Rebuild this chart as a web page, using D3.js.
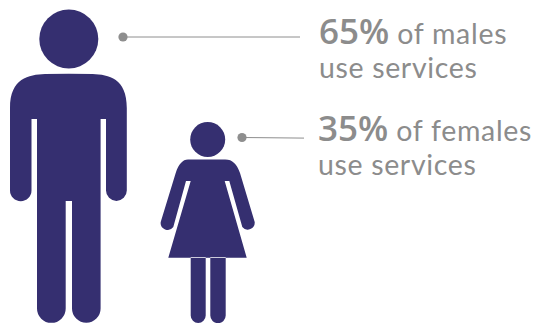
<!DOCTYPE html>
<html>
<head>
<meta charset="utf-8">
<script src="https://cdn.jsdelivr.net/npm/d3@7"></script>
<style>
html,body{margin:0;padding:0;background:#fff}
svg{display:block}
text{font-family:Lato,"Open Sans",sans-serif;fill:#8c8c8c}
</style>
</head>
<body>
<svg id="chart" width="534" height="323"></svg>
<script>
const groups = ["males", "females"];
const shares = [65, 35];
const secondLine = ["use services", "use services"];

const ink = "#352f70", grey = "#8e8e8e";
const svg = d3.select("#chart");

// Each figure's height grows with its share; both stand on the bottom edge.
const height = d3.scaleLinear().domain([35, 65]).range([201, 313]);
const figureX = d3.scaleOrdinal().domain(groups).range([68.8, 207.7]);
const labelX = d3.scaleOrdinal().domain(groups).range([319, 318]);
const labelY = d3.scaleOrdinal().domain(groups).range([44, 141]);
const leaderY = d3.scaleOrdinal().domain(groups).range([37, 137.5]);
const leaderX = d3.scaleOrdinal().domain(groups).range([123, 242]);
const leaderEnd = d3.scaleOrdinal().domain(groups).range([300, 304]);

// Pictogram outlines, x measured from the centre line and y from the head top.
const outlines = {
  males: {
    unit: 313, headR: 29.5, headY: 29,
    body: "M-23.8 64C-40 64.8-58.8 68-58.8 98L-58.8 180.5A10.5 10.5 0 0 0-37.3 180.5L-37.3 109L-31.8 109L-31.8 298.5A14.3 14.3 0 0 0-3.1 298.5L-3.1 191L3.2 191L3.2 298.5A14.3 14.3 0 0 0 31.8 298.5L31.8 109L37.2 109L37.2 180.5A10.4 10.4 0 0 0 58 180.5L58 98C58 68 40 64.8 23.8 64Q0 63.4-23.8 64Z"
  },
  females: {
    unit: 201, headR: 17.5, headY: 17.5,
    body: "M-19.7 37.5C-25 37.5-29 42-32 51L-47 100A7 7 0 0 0-34.4 105L-21.7 59L-17 59L-39.4 135.7L39 135.7L17 59L21.6 59L34.6 105A7 7 0 0 0 47 100L32.3 51C29 42 25 37.5 17.5 37.5Z"
      + "M-17 135L-2 135L-2 193.5A7.5 7.5 0 0 1-17 193.5Z"
      + "M2.6 135L18 135L18 193.5A7.7 7.7 0 0 1 2.6 193.5Z"
  }
};

const figures = svg.selectAll("g.figure")
  .data(groups.map((g, i) => ({ g, share: shares[i], second: secondLine[i] })))
  .join("g").attr("class", "figure");

figures.each(function (d) {
  const o = outlines[d.g];
  const h = height(d.share);
  const k = h / o.unit;
  const g = d3.select(this).append("g")
    .attr("transform", `translate(${figureX(d.g)},${323 - h}) scale(${k})`)
    .attr("fill", ink);
  g.append("circle").attr("cy", o.headY).attr("r", o.headR);
  g.append("path").attr("d", o.body);
});

figures.append("line")
  .attr("x1", d => leaderX(d.g)).attr("x2", d => leaderEnd(d.g))
  .attr("y1", d => leaderY(d.g)).attr("y2", d => leaderY(d.g) + (d.g === "females" ? 0.6 : 0))
  .attr("stroke", grey).attr("stroke-width", 1);
figures.append("circle")
  .attr("cx", d => leaderX(d.g)).attr("cy", d => leaderY(d.g)).attr("r", 4.6).attr("fill", grey);

const first = figures.append("text")
  .attr("x", d => labelX(d.g)).attr("y", d => labelY(d.g));
first.append("tspan")
  .attr("font-family", "'Open Sans'").attr("font-size", 35).attr("font-weight", 600)
  .text(d => d.share + "%");
first.append("tspan")
  .attr("font-size", 28.5).attr("dx", 8).attr("letter-spacing", 0.7)
  .text(d => "of " + d.g);
figures.append("text")
  .attr("x", d => labelX(d.g)).attr("y", d => labelY(d.g) + 34)
  .attr("font-size", 28.5).attr("letter-spacing", 0.65).text(d => d.second);
</script>
</body>
</html>
